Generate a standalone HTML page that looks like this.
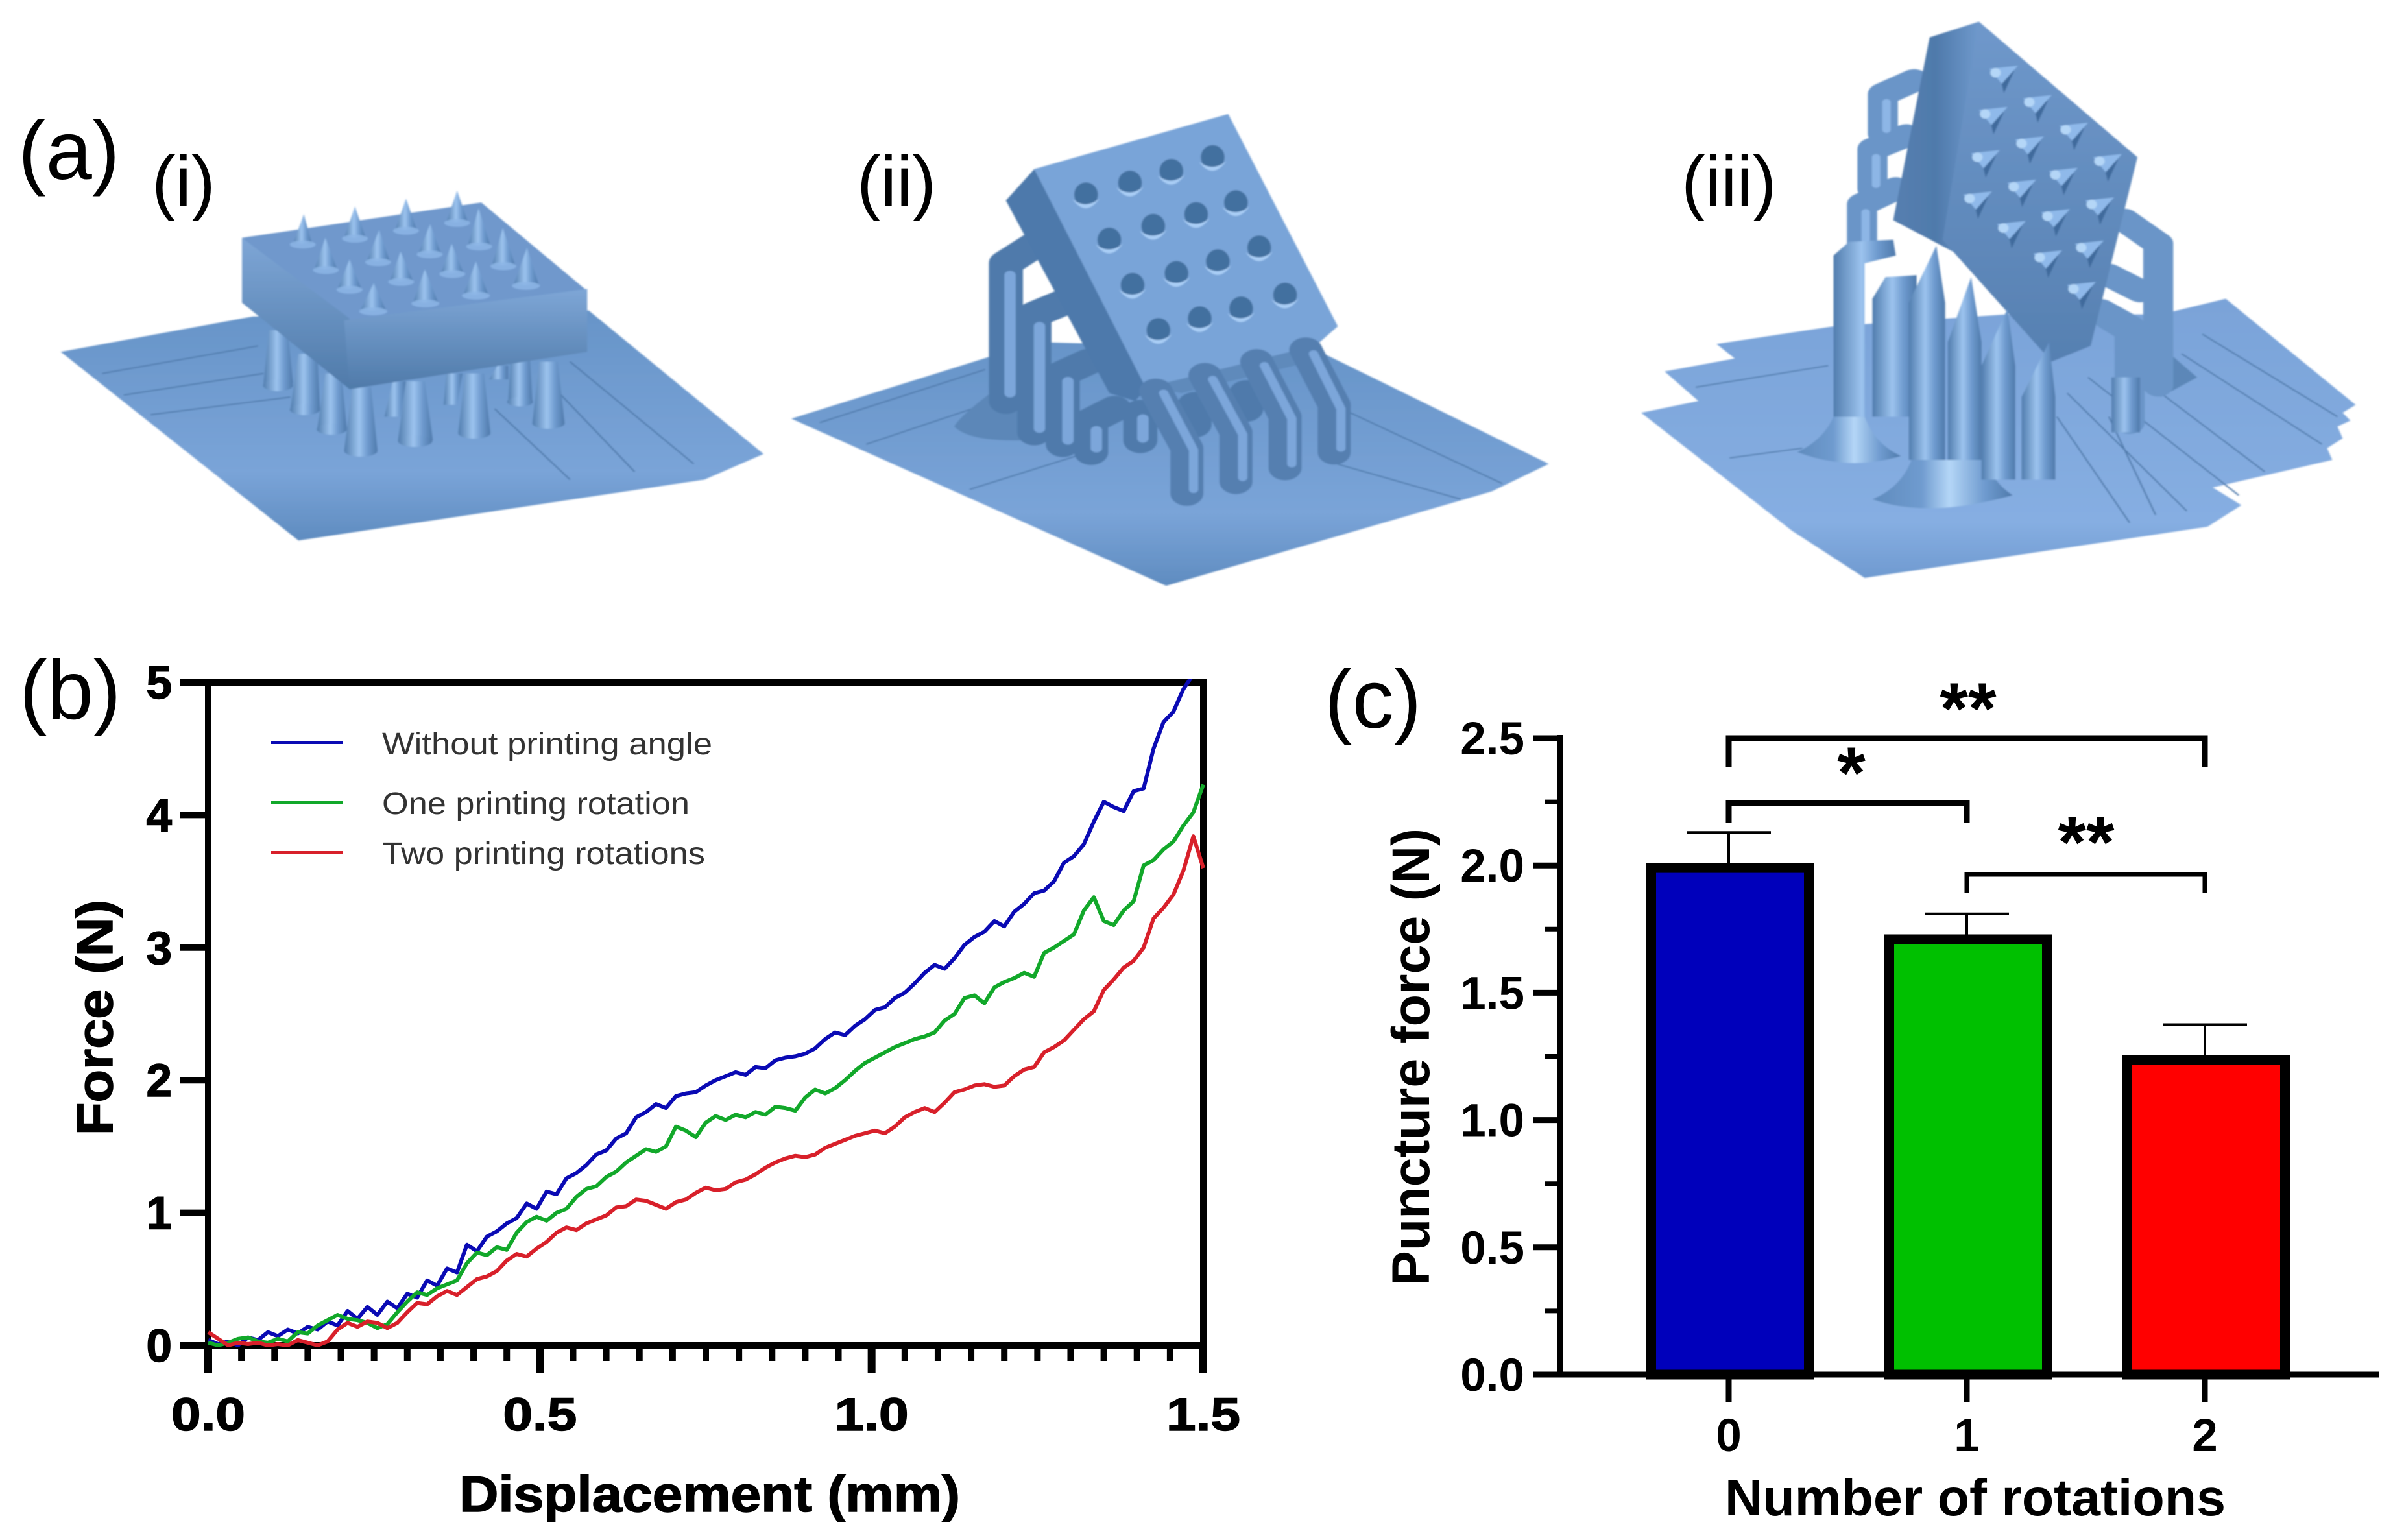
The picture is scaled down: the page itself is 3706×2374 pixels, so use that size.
<!DOCTYPE html>
<html lang="en">
<head>
<meta charset="utf-8">
<title>Printed microneedle patches: geometry, force curves and puncture force</title>
<style>
html,body{margin:0;padding:0;background:#fff;}
svg{display:block;font-family:"Liberation Sans",sans-serif;}
.lab{font-size:128px;fill:#000;}
.sub{font-size:110px;fill:#000;}
.tb{font-weight:bold;fill:#000;}
.heavy{stroke:#000;stroke-width:1.5px;}
.leg{font-size:48px;fill:#333;}
</style>
</head>
<body>
<svg id="fig" xmlns="http://www.w3.org/2000/svg" width="3706" height="2374" viewBox="0 0 3706 2374">
<defs>
<filter id="soft" x="-5%" y="-5%" width="110%" height="110%"><feGaussianBlur stdDeviation="1.6"/></filter>
<linearGradient id="cyl" x1="0" x2="1" y1="0" y2="0"><stop offset="0" stop-color="#517dae"/><stop offset=".45" stop-color="#9cc3ee"/><stop offset=".7" stop-color="#6f9bcf"/><stop offset="1" stop-color="#4f7aab"/></linearGradient>
<linearGradient id="cone" x1="0" x2="1" y1="0" y2="0"><stop offset="0" stop-color="#5f8bbd"/><stop offset=".35" stop-color="#6f9bcf"/><stop offset=".55" stop-color="#b4d6f7"/><stop offset=".8" stop-color="#6f9bcf"/><stop offset="1" stop-color="#4f7aab"/></linearGradient>
<linearGradient id="blockside" x1="0" x2="0" y1="0" y2="1"><stop offset="0" stop-color="#7ea6d6"/><stop offset="1" stop-color="#4f7aa9"/></linearGradient>
<linearGradient id="plate" x1="0" x2="0" y1="0" y2="1"><stop offset="0" stop-color="#6794c8"/><stop offset=".7" stop-color="#7aa4d8"/><stop offset="1" stop-color="#5f8cc0"/></linearGradient>
<linearGradient id="plate3" x1="0" x2="0" y1="0" y2="1"><stop offset="0" stop-color="#7aa3d8"/><stop offset=".8" stop-color="#86aee2"/><stop offset="1" stop-color="#6f9ad0"/></linearGradient>
<linearGradient id="face3" x1="0" x2="0" y1="0" y2="1"><stop offset="0" stop-color="#6f98cb"/><stop offset="1" stop-color="#5680b1"/></linearGradient>
<linearGradient id="side3" x1="0" x2="1" y1="0" y2="0"><stop offset="0" stop-color="#567fb0"/><stop offset=".5" stop-color="#4f7aab"/><stop offset="1" stop-color="#6f99cc"/></linearGradient>
<g id="hole"><ellipse cx="0" cy="0" rx="23" ry="31" fill="#42709f"/><path d="M-26,12 Q0,58 26,10 Q0,38 -26,12Z" fill="#a9cdf5"/></g>
<g id="spike"><polygon points="20,18 48,5 28,62" fill="#3f6b9c"/><polygon points="0,0 55,-8 24,38" fill="#8fb9ea"/><ellipse cx="12" cy="10" rx="10" ry="12" fill="#b4d6f7"/></g>
</defs>

<!-- Panel a: model (i) -->
<g transform="scale(.829,.606)" filter="url(#soft)">
  <polygon fill="url(#plate)" points="113,895 470,805 1095,790 1420,1155 1310,1220 555,1375"/>
  <g stroke="#4f7aab" stroke-width="3" fill="none"><path d="M190,950 L480,880M230,1005 L490,950M280,1055 L540,1010M920,1040 L1060,1220M1060,920 L1290,1180M1040,1000 L1180,1200"/></g>
  <g fill="url(#cyl)">
    <polygon points="500,840 535,840 545,975 490,975"/><ellipse cx="517" cy="980" rx="28" ry="15"/>
    <polygon points="925,930 945,930 945,965 910,965"/>
    <polygon points="950,900 985,900 990,1020 945,1020"/><ellipse cx="967" cy="1022" rx="24" ry="12"/>
    <polygon points="830,950 860,950 850,1030 825,1030"/>
    <polygon points="730,970 755,970 745,1060 715,1060"/>
    <polygon points="555,900 590,900 595,1040 540,1040"/><ellipse cx="567" cy="1042" rx="28" ry="14"/>
    <polygon points="605,950 635,950 645,1090 590,1090"/><ellipse cx="617" cy="1092" rx="28" ry="14"/>
    <polygon points="1003,920 1037,920 1050,1075 990,1075"/><ellipse cx="1020" cy="1077" rx="30" ry="14"/>
    <polygon points="865,950 900,950 912,1100 852,1100"/><ellipse cx="882" cy="1102" rx="30" ry="14"/>
    <polygon points="755,970 790,970 805,1120 740,1120"/><ellipse cx="772" cy="1122" rx="32" ry="15"/>
    <polygon points="655,985 690,985 702,1145 640,1145"/><ellipse cx="671" cy="1147" rx="31" ry="15"/>
  </g>
  <polygon fill="#6f98cc" points="450,605 895,515 1092,740 650,830"/>
  <polygon fill="url(#blockside)" points="450,605 650,810 650,990 450,770"/>
  <polygon fill="url(#blockside)" points="640,815 1092,735 1092,895 650,990"/>
  <g fill="url(#cyl)">
    <polygon points="565,545 580,620 545,620"/><polygon points="660,525 680,605 640,605"/><polygon points="755,505 775,585 735,585"/><polygon points="850,485 870,565 830,565"/>
    <polygon points="605,605 627,685 585,685"/><polygon points="705,585 725,665 682,665"/><polygon points="800,570 820,645 778,645"/><polygon points="890,530 912,625 870,625"/>
    <polygon points="650,660 672,735 628,735"/><polygon points="745,640 768,715 725,715"/><polygon points="840,620 862,695 820,695"/><polygon points="935,580 958,675 915,675"/>
    <polygon points="695,720 718,790 670,790"/><polygon points="790,685 815,770 768,770"/><polygon points="885,665 908,750 862,750"/><polygon points="980,630 1002,725 955,725"/>
  </g>
  <g fill="#8db6e6" opacity=".85">
    <ellipse cx="563" cy="622" rx="24" ry="10"/><ellipse cx="660" cy="607" rx="24" ry="10"/><ellipse cx="755" cy="587" rx="24" ry="10"/><ellipse cx="850" cy="567" rx="24" ry="10"/>
    <ellipse cx="606" cy="687" rx="24" ry="10"/><ellipse cx="703" cy="667" rx="24" ry="10"/><ellipse cx="799" cy="647" rx="24" ry="10"/><ellipse cx="891" cy="627" rx="24" ry="10"/>
    <ellipse cx="650" cy="737" rx="24" ry="10"/><ellipse cx="746" cy="717" rx="24" ry="10"/><ellipse cx="841" cy="697" rx="24" ry="10"/><ellipse cx="936" cy="677" rx="24" ry="10"/>
    <ellipse cx="694" cy="792" rx="26" ry="10"/><ellipse cx="791" cy="772" rx="26" ry="10"/><ellipse cx="885" cy="752" rx="26" ry="10"/><ellipse cx="978" cy="727" rx="26" ry="10"/>
  </g>
</g>

<!-- Panel a: model (ii) -->
<g transform="translate(1200,0) scale(.797,.606)" filter="url(#soft)">
  <polygon fill="url(#plate)" points="25,1065 500,870 1040,890 1490,1180 1380,1250 750,1490"/>
  <g stroke="#4f7aab" stroke-width="3" fill="none"><path d="M80,1075 L400,940M170,1130 L420,1020M370,1245 L600,1150M1090,1040 L1400,1230M1080,1180 L1320,1270"/></g>
  <path fill="#5c87b8" d="M340,1085 Q350,1060 410,1000 L470,1000 L480,1120 Q370,1125 340,1085Z"/>
  <g fill="none" stroke-linejoin="round" stroke-linecap="round">
    <g stroke="#4f7aab" stroke-width="66">
      <polyline points="440,1020 440,670 500,620"/><polyline points="495,1100 495,800 550,770"/>
      <polyline points="550,1130 550,950 600,920"/><polyline points="605,1150 605,1070 650,1040"/>
      <polyline points="700,1120 700,1050"/><polyline points="805,1080 805,1030"/><polyline points="905,1040 905,1000"/>
    </g>
    <g stroke="#7ba6da" stroke-width="22">
      <polyline points="448,1000 448,700"/><polyline points="505,1090 505,830"/>
      <polyline points="560,1120 560,970"/><polyline points="615,1140 615,1095"/><polyline points="705,1115 705,1065"/>
    </g>
  </g>
  <polygon fill="#4d79ab" points="440,510 495,430 715,985 690,1020 640,1000"/>
  <polygon fill="#79a4d8" points="495,430 870,290 1082,830 1030,890 710,985"/>
  <polygon fill="#5f8abb" points="715,985 1035,880 1030,920 780,1000"/>
  <g>
    <use href="#hole" x="595" y="495"/><use href="#hole" x="680" y="465"/><use href="#hole" x="760" y="435"/><use href="#hole" x="840" y="400"/>
    <use href="#hole" x="640" y="610"/><use href="#hole" x="725" y="575"/><use href="#hole" x="808" y="545"/><use href="#hole" x="885" y="515"/>
    <use href="#hole" x="685" y="725"/><use href="#hole" x="770" y="695"/><use href="#hole" x="850" y="665"/><use href="#hole" x="930" y="630"/>
    <use href="#hole" x="735" y="840"/><use href="#hole" x="815" y="810"/><use href="#hole" x="895" y="785"/><use href="#hole" x="980" y="750"/>
  </g>
  <g fill="none" stroke-linejoin="round" stroke-linecap="round">
    <g stroke="#557fb0" stroke-width="64">
      <polyline points="1075,1150 1075,1030 1020,890"/><polyline points="980,1190 980,1060 925,920"/>
      <polyline points="885,1225 885,1100 825,955"/><polyline points="790,1255 790,1140 730,995"/>
    </g>
    <g stroke="#7ba6da" stroke-width="18">
      <polyline points="1088,1140 1088,1040 1035,900"/><polyline points="993,1180 993,1065 940,930"/>
      <polyline points="898,1215 898,1105 840,965"/><polyline points="803,1245 803,1145 745,1000"/>
    </g>
  </g>
</g>

<!-- Panel a: model (iii) -->
<g transform="translate(2450,0) scale(.801,.606)" filter="url(#soft)">
  <polygon fill="url(#plate3)" points="245,875 280,912 145,945 210,1020 100,1050 390,1350 530,1470 1190,1340 1255,1285 1200,1240 1430,1170 1420,1140 1450,1115 1440,1085 1465,1070 1450,1050 1475,1030 1225,760 1100,800 800,800 470,830"/>
  <g stroke="#4f7aab" stroke-width="3" fill="none"><path d="M205,985 L460,930M270,1165 L410,1140M920,1000 L1150,1300M960,960 L1250,1260M1100,1000 L1300,1200M1180,850 L1440,1060M1000,1060 L1090,1310M900,1060 L1040,1330M1140,900 L1410,1130"/></g>
  <polygon fill="#5c87b8" points="1100,880 1170,960 1100,1010"/>
  <g fill="none" stroke-linejoin="round" stroke-linecap="round">
    <g stroke="#6a95c8" stroke-width="58">
      <polyline points="1095,980 1095,620 1030,560"/><polyline points="1040,1075 1040,830 985,790"/>
      <polyline points="1060,740 1000,700"/><polyline points="1050,850 1000,810"/>
      <polyline points="565,340 565,240 625,205"/><polyline points="545,480 545,380 610,345"/><polyline points="525,620 525,520 590,480"/>
    </g>
    <g stroke="#8db6e6" stroke-width="16"><polyline points="572,330 572,260"/><polyline points="552,470 552,400"/><polyline points="532,610 532,540"/></g>
  </g>
  <polygon fill="url(#side3)" points="655,95 750,55 700,640 585,560"/>
  <polygon fill="url(#face3)" points="750,55 1055,400 965,880 890,920 680,610"/>
  <g>
    <use href="#spike" x="770" y="175"/><use href="#spike" x="835" y="250"/><use href="#spike" x="905" y="320"/><use href="#spike" x="970" y="400"/>
    <use href="#spike" x="750" y="280"/><use href="#spike" x="820" y="355"/><use href="#spike" x="885" y="435"/><use href="#spike" x="955" y="510"/>
    <use href="#spike" x="735" y="390"/><use href="#spike" x="805" y="465"/><use href="#spike" x="870" y="540"/><use href="#spike" x="935" y="620"/>
    <use href="#spike" x="720" y="495"/><use href="#spike" x="785" y="570"/><use href="#spike" x="855" y="645"/><use href="#spike" x="920" y="725"/>
  </g>
  <path fill="url(#cone)" d="M400,1150 Q450,1120 470,1060 L530,1060 Q550,1130 600,1160 Q500,1200 400,1150Z"/>
  <path fill="url(#cone)" d="M545,1270 Q600,1240 620,1170 L760,1170 Q780,1230 815,1260 Q650,1320 545,1270Z"/>
  <g fill="url(#cyl)">
    <polygon points="470,650 500,615 585,610 590,650 530,670 530,1060 470,1060"/>
    <polygon points="545,760 570,705 630,700 630,1060 545,1060"/>
    <polygon points="615,770 668,625 685,770 685,1170 615,1170"/>
    <polygon points="690,870 735,705 755,870 755,1170 690,1170"/>
    <polygon points="755,930 805,785 820,930 820,1220 755,1220"/>
    <polygon points="832,1010 885,870 897,1010 897,1220 832,1220"/>
    <polygon points="1005,960 1060,960 1060,1100 1005,1100"/>
  </g>
</g>

<!-- Panel labels -->
<text class="lab" x="28" y="276">(a)</text>
<text class="sub" x="234" y="318">(i)</text>
<text class="sub" x="1321" y="318">(ii)</text>
<text class="sub" x="2592" y="318">(iii)</text>
<text class="lab" x="30" y="1108">(b)</text>
<text class="lab" x="2042" y="1122">(c)</text>

<g id="chartB"></g>
<g id="chartC"></g>
</svg>

<script>
const displacementStep = 0.015;
const blueForce = [.04,.01,.03,0,.06,.04,.10,.07,.12,.09,.14,.12,.18,.15,.26,.2,.29,.23,.33,.28,.39,.36,.49,.45,.58,.55,.76,.71,.82,.86,.92,.96,1.07,1.03,1.16,1.14,1.26,1.3,1.36,1.44,1.47,1.56,1.6,1.72,1.76,1.82,1.79,1.88,1.9,1.91,1.96,2.0,2.03,2.06,2.04,2.1,2.09,2.15,2.17,2.18,2.2,2.24,2.31,2.36,2.34,2.41,2.46,2.53,2.55,2.62,2.66,2.73,2.81,2.87,2.84,2.92,3.02,3.08,3.12,3.2,3.16,3.27,3.33,3.41,3.43,3.5,3.64,3.69,3.78,3.95,4.1,4.06,4.03,4.18,4.2,4.5,4.7,4.78,4.95,5.06,5.15];
const greenForce = [.02,0,.02,.05,.06,.03,.02,.05,.03,.1,.09,.15,.19,.23,.2,.19,.17,.13,.16,.25,.33,.4,.38,.43,.46,.49,.62,.7,.68,.74,.72,.85,.93,.97,.94,1.0,1.03,1.12,1.18,1.2,1.27,1.31,1.38,1.43,1.48,1.46,1.5,1.65,1.62,1.57,1.68,1.73,1.7,1.74,1.72,1.76,1.74,1.8,1.79,1.77,1.87,1.93,1.9,1.94,2.0,2.07,2.13,2.17,2.21,2.25,2.28,2.31,2.33,2.36,2.45,2.5,2.62,2.64,2.58,2.7,2.74,2.77,2.81,2.78,2.96,3.0,3.05,3.1,3.28,3.38,3.2,3.17,3.28,3.35,3.62,3.66,3.74,3.8,3.92,4.02,4.23];
const redForce = [.1,.05,0,.02,.01,.02,0,.01,0,.04,.02,0,.03,.12,.17,.14,.18,.17,.13,.17,.25,.32,.31,.37,.41,.38,.44,.5,.52,.56,.64,.69,.67,.73,.78,.85,.89,.87,.92,.95,.98,1.04,1.05,1.1,1.09,1.06,1.03,1.08,1.1,1.15,1.19,1.17,1.18,1.23,1.25,1.29,1.34,1.38,1.41,1.43,1.42,1.44,1.49,1.52,1.55,1.58,1.6,1.62,1.6,1.65,1.72,1.76,1.79,1.76,1.83,1.91,1.93,1.96,1.97,1.95,1.96,2.03,2.08,2.1,2.21,2.25,2.3,2.38,2.46,2.52,2.68,2.76,2.85,2.9,3.0,3.22,3.3,3.4,3.58,3.84,3.6];
const xTicksB = ["0.0","0.5","1.0","1.5"];
const yTicksB = ["0","1","2","3","4","5"];
const legendLabels = ["Without printing angle","One printing rotation","Two printing rotations"];
const legendWidths = [509,474,498];

const rotationCategories = ["0","1","2"];
const punctureForce = [1.99,1.71,1.235];
const punctureUpper = [2.13,1.81,1.375];
const yTicksC = ["0.0","0.5","1.0","1.5","2.0","2.5"];

const NS = "http://www.w3.org/2000/svg";
function mk(tag, attrs, parent) {
  const el = document.createElementNS(NS, tag);
  for (const k in attrs) el.setAttribute(k, attrs[k]);
  parent.appendChild(el);
  return el;
}

/* ---------- Chart b ---------- */
const B = document.getElementById("chartB");
const bx = v => 321 + (v / 1.5) * (1855 - 321);
const by = v => 2074 - (v / 5) * (2074 - 1052);

const clip = mk("clipPath", {id:"clipB"}, B);
mk("rect", {x:300, y:1047, width:1562, height:1040}, clip);

const frameB = mk("path", {d:`M${bx(0)} ${by(5)}H${bx(1.5)}V${by(0)}H${bx(0)}Z`, fill:"none", stroke:"#000", "stroke-width":10}, B);



yTicksB.forEach(t => {
  const v = +t;
  const tick = mk("line", {x1:278, x2:bx(0), y1:by(v), y2:by(v), stroke:"#000", "stroke-width":10}, B);
  
  
  const lbl = mk("text", {x:265, y:by(v)+25, "text-anchor":"end", "font-size":71, class:"tb heavy"}, B);
  lbl.textContent = t;
  
  
});
for (let i = 0; i <= 30; i++) {
  const major = i % 10 === 0;
  const tick = mk("line", {x1:bx(i*0.05), x2:bx(i*0.05), y1:by(0), y2:major?2117:2098, stroke:"#000", "stroke-width":major?12:10}, B);
  
  
}
xTicksB.forEach(t => {
  const lbl = mk("text", {x:bx(+t)-57, y:2205, textLength:114, lengthAdjust:"spacingAndGlyphs", "font-size":71, class:"tb heavy"}, B);
  lbl.textContent = t;
  
  
});
const xTitleB = mk("text", {x:708, y:2330, textLength:772, lengthAdjust:"spacingAndGlyphs", "font-size":78, class:"tb heavy"}, B);
xTitleB.textContent = "Displacement (mm)";


const yTitleB = mk("text", {transform:"translate(173,1750) rotate(-90)", textLength:363, lengthAdjust:"spacingAndGlyphs", "font-size":78, class:"tb heavy"}, B);
yTitleB.textContent = "Force (N)";



function linePath(values) {
  return values.map((v, i) => (i ? "L" : "M") + bx(i * displacementStep).toFixed(1) + " " + by(v).toFixed(1)).join("");
}
const seriesColors = ["#0a0ab4","#12a82a","#d8202a"];
const lineBlue = mk("path", {d:linePath(blueForce), fill:"none", stroke:seriesColors[0], "stroke-width":6, "stroke-linejoin":"round", "clip-path":"url(#clipB)"}, B);


const lineGreen = mk("path", {d:linePath(greenForce), fill:"none", stroke:seriesColors[1], "stroke-width":6, "stroke-linejoin":"round", "clip-path":"url(#clipB)"}, B);


const lineRed = mk("path", {d:linePath(redForce), fill:"none", stroke:seriesColors[2], "stroke-width":6, "stroke-linejoin":"round", "clip-path":"url(#clipB)"}, B);



legendLabels.forEach((t, i) => {
  const ly = [1145,1237,1314][i];
  const sw = mk("line", {x1:418, x2:529, y1:ly, y2:ly, stroke:seriesColors[i], "stroke-width":4}, B);
  
  
  const lt = mk("text", {x:589, y:ly+18, class:"leg", textLength:legendWidths[i], lengthAdjust:"spacingAndGlyphs"}, B);
  lt.textContent = t;
  
  
});

/* ---------- Chart c ---------- */
const C = document.getElementById("chartC");
const cy = v => 2119 - (v / 2.5) * (2119 - 1138);
const catX = i => 2665 + i * 367;
const barW = 243;
const barColors = ["#0000bb","#00c000","#ff0000"];

const xAxisC = mk("line", {x1:2363, x2:3667, y1:cy(0), y2:cy(0), stroke:"#000", "stroke-width":9}, C);


const yAxisC = mk("line", {x1:2405, x2:2405, y1:cy(2.5)-5, y2:cy(0), stroke:"#000", "stroke-width":10}, C);



for (let i = 0; i <= 10; i++) {
  const major = i % 2 === 0;
  const tick = mk("line", {x1:major?2363:2382, x2:2405, y1:cy(i*0.25), y2:cy(i*0.25), stroke:"#000", "stroke-width":major?9:7}, C);
  
  
}
yTicksC.forEach(t => {
  const lbl = mk("text", {x:2350, y:cy(+t)+25, "text-anchor":"end", "font-size":71, class:"tb"}, C);
  lbl.textContent = t;
  
  
});

rotationCategories.forEach((t, i) => {
  const x = catX(i);
  const stem = mk("line", {x1:x, x2:x, y1:cy(punctureUpper[i]), y2:cy(punctureForce[i]), stroke:"#000", "stroke-width":4}, C);
  
  
  const cap = mk("line", {x1:x-65, x2:x+65, y1:cy(punctureUpper[i]), y2:cy(punctureUpper[i]), stroke:"#000", "stroke-width":4}, C);
  
  
  const bar = mk("rect", {x:x-barW/2+2, y:cy(punctureForce[i]), width:barW, height:cy(0)-cy(punctureForce[i]), fill:barColors[i], stroke:"#000", "stroke-width":15}, C);
  
  
  const tick = mk("line", {x1:x, x2:x, y1:cy(0), y2:2161, stroke:"#000", "stroke-width":9}, C);
  
  
  const lbl = mk("text", {x:x, y:2237, "text-anchor":"middle", "font-size":71, class:"tb"}, C);
  lbl.textContent = t;
  
  
});

const xTitleC = mk("text", {x:3045, y:2336, "text-anchor":"middle", textLength:772, lengthAdjust:"spacingAndGlyphs", "font-size":80, class:"tb"}, C);
xTitleC.textContent = "Number of rotations";


const yTitleC = mk("text", {transform:"translate(2203,1982) rotate(-90)", textLength:705, lengthAdjust:"spacingAndGlyphs", "font-size":82, class:"tb"}, C);
yTitleC.textContent = "Puncture force (N)";



const brA = mk("path", {d:`M${catX(0)} 1182V1138H${catX(2)}V1182`, fill:"none", stroke:"#000", "stroke-width":9}, C);


const brB = mk("path", {d:`M${catX(0)} 1268V1238H${catX(1)}V1268`, fill:"none", stroke:"#000", "stroke-width":9}, C);


const brC = mk("path", {d:`M${catX(1)} 1376V1348H${catX(2)}V1376`, fill:"none", stroke:"#000", "stroke-width":7}, C);



const starA = mk("text", {x:3034, y:1131, "text-anchor":"middle", "font-size":112, class:"tb"}, C);
starA.textContent = "**";


const starB = mk("text", {x:2854, y:1230, "text-anchor":"middle", "font-size":112, class:"tb"}, C);
starB.textContent = "*";


const starC = mk("text", {x:3216, y:1337, "text-anchor":"middle", "font-size":112, class:"tb"}, C);
starC.textContent = "**";


</script>
</body>
</html>
